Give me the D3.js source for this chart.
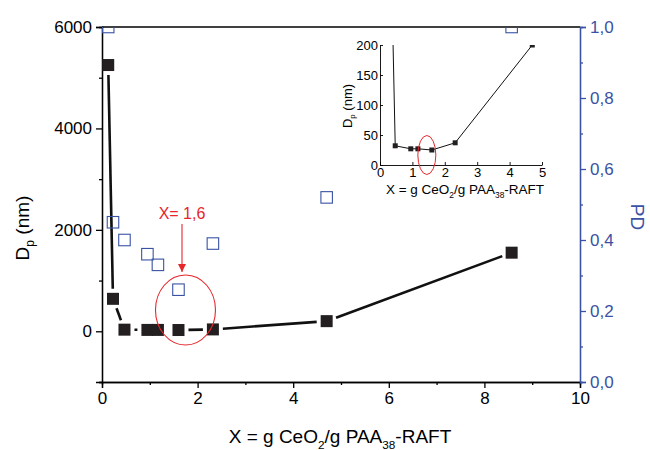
<!DOCTYPE html>
<html><head><meta charset="utf-8">
<script src="https://cdn.jsdelivr.net/npm/d3@7"></script>
<style>body{margin:0;background:#fff}svg{font-family:"Liberation Sans",Arial,sans-serif}</style>
</head><body>
<svg id="c" width="650" height="450"></svg>
<script>
// Data
const xVals   = [0.13, 0.23, 0.47, 0.95, 1.17, 1.6, 2.32, 4.7, 8.57];
const dpVals  = [5250, 640, 32, 27, 27, 25, 37, 200, 1550];
const pdVals  = [1.0, 0.45, 0.40, 0.36, 0.33, 0.26, 0.39, 0.52, 1.0];
const xTicks  = [0, 2, 4, 6, 8, 10];
const xMinor  = [1, 3, 5, 7, 9];
const dpTicks = [0, 2000, 4000, 6000];
const dpMinor = [-1000, 1000, 3000, 5000];
const pdTicks = [0, 0.2, 0.4, 0.6, 0.8, 1.0];
const pdMinor = [0.1, 0.3, 0.5, 0.7, 0.9];
const insetXTicks = [0, 1, 2, 3, 4, 5];
const insetYTicks = [0, 50, 100, 150, 200];
const highlightX = 1.6;

const BLUE = "#3a52a3", RED = "#e6262b";
const svg = d3.select("#c");

const x = d3.scaleLinear().domain([0, 10]).range([102, 580]);
const yL = d3.scaleLinear().domain([-1000, 6000]).range([382, 27]);
const yR = d3.scaleLinear().domain([0, 1]).range([382, 27]);

const comma = d => d3.format(".1f")(d).replace(".", ",");

svg.append("defs").append("clipPath").attr("id", "mainclip")
  .append("rect").attr("x", 102).attr("y", 27).attr("width", 478).attr("height", 355);

// frame top
svg.append("line").attr("x1", 102).attr("x2", 580).attr("y1", 27).attr("y2", 27)
  .attr("stroke", "#000").attr("stroke-width", 1.3);

function styleAxis(g, color, fs) {
  g.select(".domain").attr("stroke", color).attr("stroke-width", 1.3);
  g.selectAll(".tick line").attr("stroke", color).attr("stroke-width", 1.3);
  g.selectAll(".tick text").attr("fill", color).attr("font-size", fs)
   .attr("font-family", "Liberation Sans, Arial, sans-serif");
}

// bottom axis
const gx = svg.append("g").attr("transform", "translate(0,382)")
  .call(d3.axisBottom(x).tickValues(xTicks).tickSize(6).tickPadding(4).tickFormat(d3.format("d")));
styleAxis(gx, "#000", 17);
const gxm = svg.append("g").attr("transform", "translate(0,382)")
  .call(d3.axisBottom(x).tickValues(xMinor).tickSize(3).tickFormat(""));
styleAxis(gxm, "#000", 17);

// left axis
const gl = svg.append("g").attr("transform", "translate(102,0)")
  .call(d3.axisLeft(yL).tickValues(dpTicks).tickSize(6).tickPadding(4).tickFormat(d3.format("d")));
styleAxis(gl, "#000", 17);
const glm = svg.append("g").attr("transform", "translate(102,0)")
  .call(d3.axisLeft(yL).tickValues(dpMinor).tickSize(3).tickFormat(""));
styleAxis(glm, "#000", 17);

// right axis
const gr = svg.append("g").attr("transform", "translate(580,0)")
  .call(d3.axisRight(yR).tickValues(pdTicks).tickSize(6).tickPadding(4).tickFormat(comma));
styleAxis(gr, BLUE, 17);
const grm = svg.append("g").attr("transform", "translate(580,0)")
  .call(d3.axisRight(yR).tickValues(pdMinor).tickSize(3).tickFormat(""));
styleAxis(grm, BLUE, 17);

// axis titles
const yt = svg.append("text").attr("transform", "translate(29,228) rotate(-90)")
  .attr("text-anchor", "middle").attr("font-size", 19).attr("fill", "#000");
yt.append("tspan").text("D");
yt.append("tspan").attr("font-size", 12).attr("dy", 5).text("p");
yt.append("tspan").attr("dy", -5).text(" (nm)");

svg.append("text").attr("transform", "translate(631,217) rotate(90)")
  .attr("text-anchor", "middle").attr("font-size", 19).attr("fill", BLUE).text("PD");

function xlabel(parent, cx, cy, fs) {
  const t = parent.append("text").attr("x", cx).attr("y", cy).attr("text-anchor", "middle")
    .attr("font-size", fs).attr("fill", "#000");
  const sub = fs * 0.62, d = fs * 0.3;
  t.append("tspan").text("X = g CeO");
  t.append("tspan").attr("font-size", sub).attr("dy", d).text("2");
  t.append("tspan").attr("dy", -d).text("/g PAA");
  t.append("tspan").attr("font-size", sub).attr("dy", d).text("38");
  t.append("tspan").attr("dy", -d).text("-RAFT");
  return t;
}
xlabel(svg, 340, 443, 19);

// data line with gaps (main)
const pts = xVals.map((v, i) => [x(v), yL(dpVals[i])]);
const gap = 10;
const segs = [];
for (let i = 0; i < pts.length - 1; i++) {
  const [x1, y1] = pts[i], [x2, y2] = pts[i + 1];
  const L = Math.hypot(x2 - x1, y2 - y1);
  if (L <= 2 * gap + 1) continue;
  const ux = (x2 - x1) / L, uy = (y2 - y1) / L;
  segs.push([[x1 + ux * gap, y1 + uy * gap], [x2 - ux * gap, y2 - uy * gap]]);
}
const mainG = svg.append("g").attr("clip-path", "url(#mainclip)");
mainG.selectAll("line.seg").data(segs).join("line").attr("class", "seg")
  .attr("x1", d => d[0][0]).attr("y1", d => d[0][1]).attr("x2", d => d[1][0]).attr("y2", d => d[1][1])
  .attr("stroke", "#111").attr("stroke-width", 2.6);

const S = 12;
mainG.selectAll("rect.dp").data(xVals).join("rect").attr("class", "dp")
  .attr("x", (d) => x(d) - S / 2).attr("y", (d, i) => yL(dpVals[i]) - S / 2)
  .attr("width", S).attr("height", S).attr("fill", "#231f20");

const P = 11.5;
mainG.selectAll("rect.pd").data(xVals).join("rect").attr("class", "pd")
  .attr("x", d => x(d) - P / 2).attr("y", (d, i) => yR(pdVals[i]) - P / 2)
  .attr("width", P).attr("height", P).attr("fill", "none").attr("stroke", BLUE).attr("stroke-width", 1.1);

// annotation
svg.append("text").attr("x", 182).attr("y", 219).attr("text-anchor", "middle")
  .attr("font-size", 16).attr("fill", RED).text("X= " + comma(highlightX));
svg.append("defs").append("marker").attr("id", "arr").attr("viewBox", "0 0 10 10")
  .attr("refX", 10).attr("refY", 5).attr("markerWidth", 8).attr("markerHeight", 8)
  .attr("markerUnits", "userSpaceOnUse").attr("orient", "auto")
  .append("path").attr("d", "M0,0 L10,5 L0,10 Z").attr("fill", RED);
svg.append("line").attr("x1", 182).attr("x2", 182).attr("y1", 224).attr("y2", 272)
  .attr("stroke", RED).attr("stroke-width", 1.1).attr("marker-end", "url(#arr)");
svg.append("ellipse").attr("cx", x(highlightX) + 7).attr("cy", 310).attr("rx", 30).attr("ry", 35)
  .attr("fill", "none").attr("stroke", RED).attr("stroke-width", 1.1);

// inset
const ix = d3.scaleLinear().domain([0, 5]).range([380, 542]);
const iy = d3.scaleLinear().domain([0, 200]).range([165, 45]);
svg.select("defs").append("clipPath").attr("id", "insclip")
  .append("rect").attr("x", 380).attr("y", 45).attr("width", 170).attr("height", 120);

function styleInset(g) {
  g.select(".domain").attr("stroke", "#000").attr("stroke-width", 0.9);
  g.selectAll(".tick line").attr("stroke", "#000").attr("stroke-width", 0.9);
  g.selectAll(".tick text").attr("fill", "#000").attr("font-size", 13)
   .attr("font-family", "Liberation Sans, Arial, sans-serif");
}
const ixa = svg.append("g").attr("transform", "translate(0,165)")
  .call(d3.axisBottom(ix).tickValues(insetXTicks).tickSizeInner(-3).tickSizeOuter(0).tickPadding(3).tickFormat(d3.format("d")));
styleInset(ixa);
const iya = svg.append("g").attr("transform", "translate(380,0)")
  .call(d3.axisLeft(iy).tickValues(insetYTicks).tickSizeInner(-3).tickSizeOuter(0).tickPadding(2).tickFormat(d3.format("d")));
styleInset(iya);

const iyt = svg.append("text").attr("transform", "translate(352,106) rotate(-90)")
  .attr("text-anchor", "middle").attr("font-size", 13).attr("fill", "#000");
iyt.append("tspan").text("D");
iyt.append("tspan").attr("font-size", 8).attr("dy", 3).text("p");
iyt.append("tspan").attr("dy", -3).text(" (nm)");
xlabel(svg, 465, 194, 13.5);

const insG = svg.append("g").attr("clip-path", "url(#insclip)");
insG.append("path").datum(xVals.map((v, i) => [v, dpVals[i]]))
  .attr("d", d3.line().x(d => ix(d[0])).y(d => iy(d[1])))
  .attr("fill", "none").attr("stroke", "#111").attr("stroke-width", 1);
const s = 5;
insG.selectAll("rect").data(xVals).join("rect")
  .attr("x", d => ix(d) - s / 2).attr("y", (d, i) => iy(dpVals[i]) - s / 2)
  .attr("width", s).attr("height", s).attr("fill", "#231f20");
svg.append("ellipse").attr("cx", ix(highlightX) - 5).attr("cy", 155).attr("rx", 9).attr("ry", 19.5)
  .attr("fill", "none").attr("stroke", RED).attr("stroke-width", 1);
</script>
</body></html>
